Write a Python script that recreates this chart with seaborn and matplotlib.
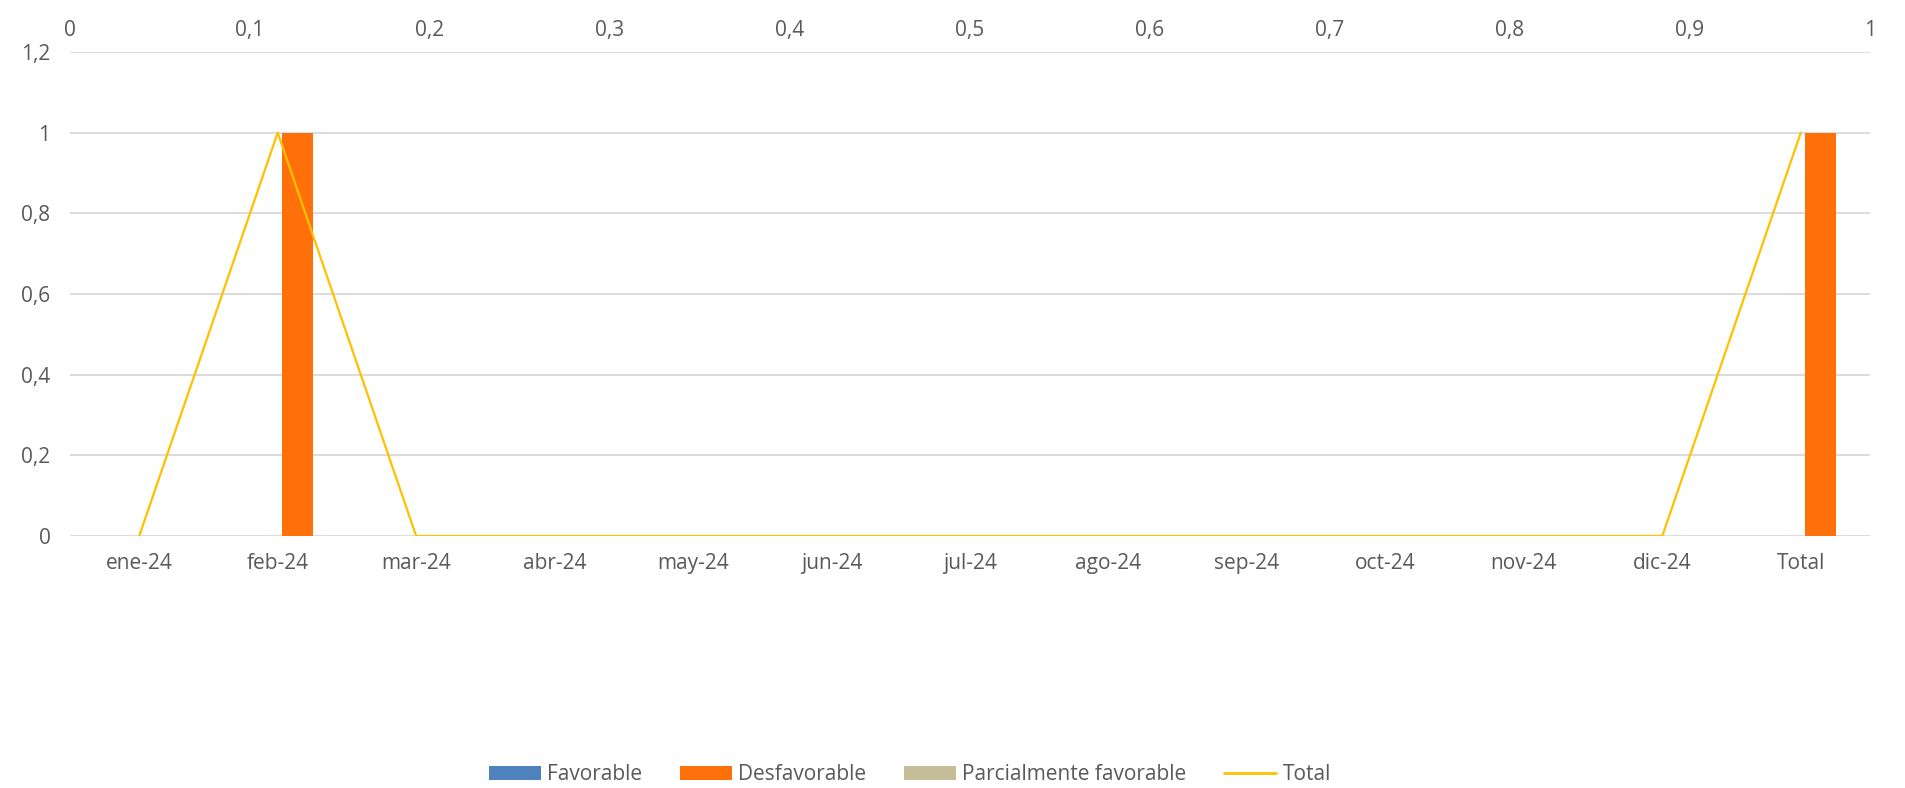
import numpy as np
import matplotlib
matplotlib.use("Agg")
import matplotlib.pyplot as plt
import seaborn as sns
from matplotlib.patches import Patch
from matplotlib.lines import Line2D
from matplotlib.ticker import FuncFormatter, MultipleLocator

# Monthly results for 2024 plus the yearly total
categories = ["ene-24", "feb-24", "mar-24", "abr-24", "may-24", "jun-24",
              "jul-24", "ago-24", "sep-24", "oct-24", "nov-24", "dic-24", "Total"]
favorable = [0, 0, 0, 0, 0, 0, 0, 0, 0, 0, 0, 0, 0]
desfavorable = [0, 1, 0, 0, 0, 0, 0, 0, 0, 0, 0, 0, 1]
parcialmente = [0, 0, 0, 0, 0, 0, 0, 0, 0, 0, 0, 0, 0]
total = [0, 1, 0, 0, 0, 0, 0, 0, 0, 0, 0, 0, 1]

series_names = ["Favorable", "Desfavorable", "Parcialmente favorable"]
series_values = [favorable, desfavorable, parcialmente]
series_colors = ["#4F81BD", "#FF700A", "#C4BD97"]
line_color = "#FFC000"
text_color = "#595959"
grid_color = "#D9D9D9"
font_size = 15

sns.set_theme(style="white")
plt.rcParams["font.family"] = ["Open Sans", "DejaVu Sans"]

fig = plt.figure(figsize=(19.06, 7.88), dpi=100)
ax = fig.add_axes([70 / 1906, 1 - 536 / 788, 1800 / 1906, 484 / 788])

# Clustered bars: each series gets its own slot inside the category
bar_width = 0.224
offsets = [-0.423, 0.141, 0.423]
idx = np.arange(len(categories))
for name, vals, col, off in zip(series_names, series_values, series_colors, offsets):
    sns.barplot(x=idx + off, y=vals, native_scale=True, width=bar_width,
                color=col, saturation=1, linewidth=0, errorbar=None, ax=ax)

ax.set_xlim(-0.5, len(categories) - 0.5)
ax.set_ylim(0, 1.2)
ax.set_xticks(idx)
ax.set_xticklabels(categories)
ax.yaxis.set_major_locator(MultipleLocator(0.2))
comma = FuncFormatter(lambda v, p: f"{v:.1f}".rstrip("0").rstrip(".").replace(".", ","))
ax.yaxis.set_major_formatter(comma)
ax.grid(axis="y", color=grid_color, linewidth=1.3)
ax.grid(axis="x", visible=False)
ax.set_axisbelow(True)
for s in ax.spines.values():
    s.set_visible(False)
ax.tick_params(axis="both", length=0, colors=text_color, labelsize=font_size)
ax.tick_params(axis="x", pad=12)
ax.tick_params(axis="y", pad=14)
ax.set_xlabel("")
ax.set_ylabel("")

# Total line on the secondary horizontal axis (0..1)
ax2 = ax.twiny()
line_x = (idx + 0.5) / len(categories)
sns.lineplot(x=line_x, y=total, color=line_color, linewidth=1.6, ax=ax2)
ax2.set_xlim(0, 1)
ax2.set_ylim(0, 1.2)
ax2.xaxis.set_major_locator(MultipleLocator(0.1))
ax2.xaxis.set_major_formatter(comma)
ax2.tick_params(axis="x", length=0, colors=text_color, labelsize=font_size, pad=8)
for s in ax2.spines.values():
    s.set_visible(False)
ax2.grid(False)
ax2.set_xlabel("")

handles = [Patch(facecolor=c, edgecolor="none") for c in series_colors]
handles.append(Line2D([0], [0], color=line_color, linewidth=2))
fig.legend(handles, series_names + ["Total"], loc="center", bbox_to_anchor=(0.4774, 1 - 775 / 788),
           ncol=4, frameon=False, fontsize=font_size, labelcolor=text_color,
           handlelength=2.5, handleheight=0.67, handletextpad=0.3, columnspacing=1.8)

fig.savefig("out.png", dpi=100)
